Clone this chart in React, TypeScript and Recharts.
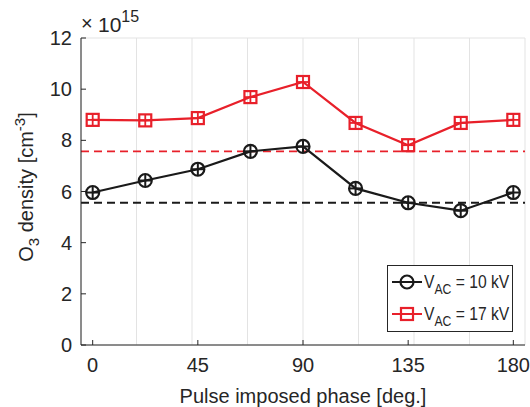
import React from 'react';
import { LineChart, Line, XAxis, YAxis, CartesianGrid, ReferenceLine, Legend } from 'recharts';

const phases = [0, 22.5, 45, 67.5, 90, 112.5, 135, 157.5, 180];
const density10kV = [5.96, 6.43, 6.87, 7.57, 7.76, 6.12, 5.56, 5.25, 5.96];
const density17kV = [8.8, 8.78, 8.87, 9.69, 10.28, 8.68, 7.81, 8.68, 8.8];
const baseline10kV = 5.56;
const baseline17kV = 7.57;
const xTicks = [0, 45, 90, 135, 180];
const yTicks = [0, 2, 4, 6, 8, 10, 12];
const seriesNames = ['10 kV', '17 kV'];

const data = phases.map((p, i) => ({ phase: p, v10: density10kV[i], v17: density17kV[i] }));

const FONT = '"Liberation Sans", Arial, Helvetica, sans-serif';
const TXT = '#262626';
const BLACK = '#1a1a1a';
const RED = '#e8202a';

const CircleDot = (props: any) => {
  const { cx, cy } = props;
  if (cx == null || cy == null) return <g />;
  const r = 6.5;
  return (
    <g>
      <circle cx={cx} cy={cy} r={r} fill="none" stroke={BLACK} strokeWidth={2.2} />
      <line x1={cx - r} x2={cx + r} y1={cy} y2={cy} stroke={BLACK} strokeWidth={2} />
      <line x1={cx} x2={cx} y1={cy - r} y2={cy + r} stroke={BLACK} strokeWidth={2} />
    </g>
  );
};

const SquareDot = (props: any) => {
  const { cx, cy } = props;
  if (cx == null || cy == null) return <g />;
  const h = 6;
  return (
    <g>
      <rect x={cx - h} y={cy - h} width={2 * h} height={2 * h} fill="none" stroke={RED} strokeWidth={2.2} />
      <line x1={cx - h} x2={cx + h} y1={cy} y2={cy} stroke={RED} strokeWidth={1.8} />
      <line x1={cx} x2={cx} y1={cy - h} y2={cy + h} stroke={RED} strokeWidth={1.8} />
    </g>
  );
};

const EmptyTick = () => <g />;

const LegendBox = () => (
  <div
    style={{
      width: 126,
      height: 67,
      border: '1px solid #262626',
      background: '#fff',
      fontFamily: FONT,
      fontSize: 18,
      color: TXT,
      boxSizing: 'border-box',
      overflow: 'hidden',
    }}
  >
    {seriesNames.map((name, i) => (
      <div key={name} style={{ display: 'flex', alignItems: 'center', height: 32 }}>
        <svg width={32} height={20} style={{ marginLeft: 3, flexShrink: 0, display: 'block' }}>
          <line x1={1} x2={31} y1={10} y2={10} stroke={i === 0 ? BLACK : RED} strokeWidth={2} />
          {i === 0 ? (
            <circle cx={16} cy={10} r={6.5} fill="none" stroke={BLACK} strokeWidth={2.2} />
          ) : (
            <rect x={10} y={4} width={12} height={12} fill="none" stroke={RED} strokeWidth={2.2} />
          )}
        </svg>
        <span
          style={{
            display: 'inline-block',
            whiteSpace: 'nowrap',
            lineHeight: '20px',
            marginLeft: 1,
            transform: 'scaleX(0.87)',
            transformOrigin: 'left center',
            flexShrink: 0,
          }}
        >
          V<sub style={{ fontSize: 14, verticalAlign: -6, lineHeight: 0 }}>AC</sub> = {name}
        </span>
      </div>
    ))}
  </div>
);

const YLabel = () => (
  <g fill={TXT}>
    <text transform="translate(33, 187) rotate(-90)" textAnchor="middle" style={{ fontSize: '20px', fontFamily: FONT }}>
      O<tspan style={{ fontSize: '15px' }} dy={6}>3</tspan>
      <tspan dy={-6}> density [cm</tspan>
      <tspan style={{ fontSize: '15px' }} dy={-8}>-3</tspan>
      <tspan dy={8}>]</tspan>
    </text>
    <text x={81} y={30} style={{ fontSize: '20px', fontFamily: FONT }}>×</text>
    <text x={98} y={32} style={{ fontSize: '21px', fontFamily: FONT }}>
      10<tspan style={{ fontSize: '16px' }} dy={-10}>15</tspan>
    </text>
  </g>
);

export default function App() {
  return (
    <div style={{ position: 'absolute', left: 0, top: 0, width: 530, height: 407, background: '#fff' }}>
      <LineChart
        width={530}
        height={407}
        data={data}
        margin={{ top: 38, right: 5, left: 0, bottom: 0 }}
        style={{ fontFamily: FONT }}
      >
        <CartesianGrid stroke="#e3e3e3" strokeWidth={1} />
        <XAxis
          xAxisId="b"
          dataKey="phase"
          type="number"
          domain={[-5, 185]}
          ticks={xTicks}
          height={62}
          tickSize={-5}
          tickMargin={18}
          stroke={TXT}
          tick={{ fill: TXT, fontSize: 20, fontFamily: FONT }}
          label={{ value: 'Pulse imposed phase [deg.]', position: 'insideBottom', offset: 4, fill: TXT, fontSize: 20, fontFamily: FONT }}
        />
        <XAxis
          xAxisId="t"
          orientation="top"
          dataKey="phase"
          type="number"
          domain={[-5, 185]}
          ticks={xTicks}
          height={0}
          tickSize={-5}
          stroke={TXT}
          tick={EmptyTick}
        />
        <YAxis
          yAxisId="l"
          type="number"
          domain={[0, 12]}
          ticks={yTicks}
          width={81}
          tickSize={-5}
          tickMargin={14}
          stroke={TXT}
          tick={{ fill: TXT, fontSize: 20, fontFamily: FONT }}
          label={{ content: YLabel }}
        />
        <YAxis
          yAxisId="r"
          orientation="right"
          type="number"
          domain={[0, 12]}
          ticks={yTicks}
          width={0}
          tickSize={-5}
          stroke={TXT}
          tick={EmptyTick}
        />
        <ReferenceLine xAxisId="b" yAxisId="l" y={baseline10kV} stroke={BLACK} strokeWidth={1.8} strokeDasharray="8 5" />
        <ReferenceLine xAxisId="b" yAxisId="l" y={baseline17kV} stroke={RED} strokeWidth={1.8} strokeDasharray="8 5" />
        <Line
          xAxisId="b"
          yAxisId="l"
          dataKey="v10"
          stroke={BLACK}
          strokeWidth={2.2}
          isAnimationActive={false}
          dot={(p: any) => <CircleDot key={`c${p.index}`} {...p} />}
        />
        <Line
          xAxisId="b"
          yAxisId="l"
          dataKey="v17"
          stroke={RED}
          strokeWidth={2.2}
          isAnimationActive={false}
          dot={(p: any) => <SquareDot key={`s${p.index}`} {...p} />}
        />
        <Legend
          layout="horizontal"
          verticalAlign="middle"
          align="center"
          content={LegendBox}
          wrapperStyle={{ left: 387, top: 265, width: 126, height: 67 }}
        />
      </LineChart>
    </div>
  );
}
